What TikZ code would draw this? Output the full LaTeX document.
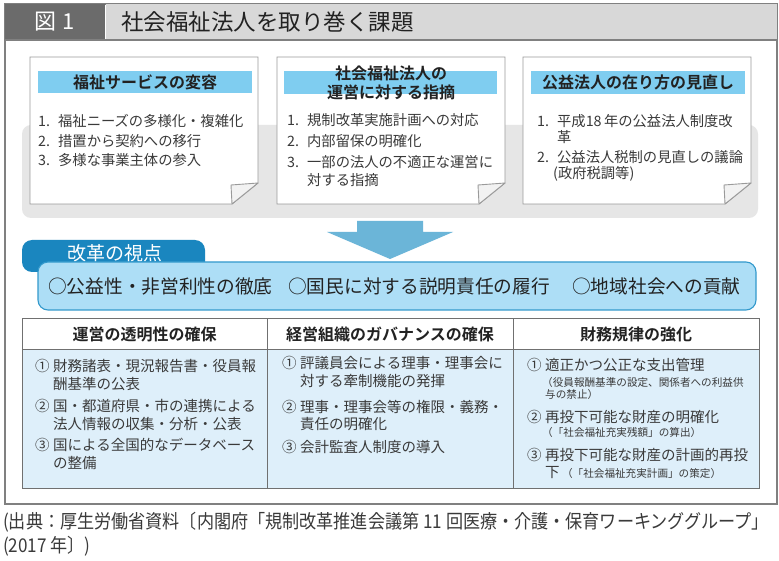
\documentclass[tikz,border=0pt]{standalone}
\usepackage{fontspec}
\setmainfont{Noto Sans CJK JP}[BoldFont={Noto Sans CJK JP Bold}]
\newfontfamily\jpnarrow{Noto Sans CJK JP}[FakeStretch=0.9]
\definecolor{framec}{HTML}{808080}
\definecolor{titledark}{HTML}{6B6B6B}
\definecolor{titlelight}{HTML}{D8D8D8}
\definecolor{bandc}{HTML}{E6E6E6}
\definecolor{cardc}{HTML}{9A9A9A}
\definecolor{foldc}{HTML}{F2F2F2}
\definecolor{headblue}{HTML}{7FCDF0}
\definecolor{arrowc}{HTML}{6BB5D8}
\definecolor{tabc}{HTML}{1A86BF}
\definecolor{barc}{HTML}{ADDEF6}
\definecolor{barline}{HTML}{3399CC}
\definecolor{gridc}{HTML}{707070}
\definecolor{bodyc}{HTML}{DEEFFA}
\definecolor{textc}{HTML}{3A3A3A}
\definecolor{headc}{HTML}{222222}
\newcommand\numbox[1]{\makebox[20pt][l]{#1}}
\newcommand\cnum[1]{\makebox[18pt][l]{#1}}
\newcommand\smallfnt{\fontsize{10.6}{12}\selectfont}
\begin{document}
\begin{tikzpicture}[x=1pt,y=-1pt,
  txt/.style={inner sep=0pt, text=textc, font=\fontsize{14.3}{17}\selectfont, anchor=west},
  ttxt/.style={inner sep=0pt, text=textc, font=\fontsize{14.5}{17}\selectfont, anchor=west},
  smalltxt/.style={inner sep=0pt, text=textc, font=\smallfnt, anchor=west},
  headtxt/.style={inner sep=0pt, text=headc, font=\fontsize{16}{19}\selectfont\bfseries},
  cardshape/.style={draw=cardc, line width=0.9pt, fill=white},
  foldshape/.style={draw=cardc, line width=0.9pt, fill=foldc, line join=round},
  headbar/.style={fill=headblue},
  bartxt/.style={inner sep=0pt, text=headc, font=\fontsize{18.7}{22}\selectfont, anchor=west},
  foot/.style={inner sep=0pt, text=textc, font=\jpnarrow\fontsize{19}{22}\selectfont, anchor=west}
]
\useasboundingbox (0,0) rectangle (779,561);
% outer frame and title
\fill[white] (0,0) rectangle (779,561);
\draw[framec, line width=1.6pt] (5,4) rectangle (777,504);
\fill[titledark] (5,4) rectangle (105,40);
\fill[titlelight] (105.8,4) rectangle (777,40);
\draw[framec, line width=1.6pt] (5,40) -- (777,40);
\node[inner sep=0pt, text=white, font=\fontsize{22}{24}\selectfont] (fig) at (55,22) {図\hspace{6pt}1};
\node[inner sep=0pt, text=headc, font=\fontsize{22.5}{25}\selectfont, anchor=west] (title) at (121,22) {社会福祉法人を取り巻く課題};
% gray band
\fill[bandc, rounded corners=9pt] (22,125) rectangle (758,218);
% cards
\draw[cardshape] (30,57) -- (258,57) -- (258,183) -- (232,204) -- (30,204) -- cycle;
\draw[foldshape] (231,185) -- (258,183) -- (232,204) -- cycle;
\draw[cardshape] (277,57) -- (505,57) -- (505,183) -- (479,204) -- (277,204) -- cycle;
\draw[foldshape] (478,185) -- (505,183) -- (479,204) -- cycle;
\draw[cardshape] (523,57) -- (751,57) -- (751,183) -- (725,204) -- (523,204) -- cycle;
\draw[foldshape] (724,185) -- (751,183) -- (725,204) -- cycle;
% card heads
\fill[headbar] (38,71) rectangle (252,93);
\node[headtxt] (h1) at (145,82) {福祉サービスの変容};
\fill[headbar] (284,71) rectangle (497,94);
\node[headtxt] (h2a) at (391,73) {社会福祉法人の};
\node[headtxt] (h2b) at (391,92) {運営に対する指摘};
\fill[headbar] (531,71) rectangle (745,94);
\node[headtxt] (h3) at (638,82) {公益法人の在り方の見直し};
% card items
\node[txt] (a1) at (38,121) {\numbox{1.}福祉ニーズの多様化・複雑化};
\node[txt] (a2) at (38,141) {\numbox{2.}措置から契約への移行};
\node[txt] (a3) at (38,160) {\numbox{3.}多様な事業主体の参入};
\node[txt] (b1) at (287,120) {\numbox{1.}規制改革実施計画への対応};
\node[txt] (b2) at (287,141) {\numbox{2.}内部留保の明確化};
\node[txt] (b3) at (287,162) {\numbox{3.}一部の法人の不適正な運営に};
\node[txt] (b4) at (307,180) {対する指摘};
\node[txt] (c1) at (537,121) {\numbox{1.}平成18\,年の公益法人制度改};
\node[txt] (c2) at (557,137) {革};
\node[txt] (c3) at (537,157) {\numbox{2.}公益法人税制の見直しの議論};
\node[txt] (c4) at (553,174) {(政府税調等)};
% arrow
\fill[arrowc] (357,221) -- (423,221) -- (423,232) -- (453,232) -- (390,259) -- (327,232) -- (357,232) -- cycle;
% tab and bar
\fill[tabc, rounded corners=10pt] (22,240) rectangle (205,272);
\node[inner sep=0pt, text=white, font=\fontsize{19}{22}\selectfont] (tab) at (115,253) {改革の視点};
\draw[barline, fill=barc, line width=1.1pt, rounded corners=10pt] (38,262) rectangle (756,310);
\node[bartxt] (p1) at (48,286) {○公益性・非営利性の徹底};
\node[bartxt] (p2) at (288,286) {○国民に対する説明責任の履行};
\node[bartxt] (p3) at (572,286) {○地域社会への貢献};
% table
\fill[white] (22,319) rectangle (759,349);
\fill[bodyc] (22,349) rectangle (759,488);
\draw[gridc, line width=1pt] (22,319) rectangle (759,488);
\draw[gridc, line width=1pt] (22,349) -- (759,349);
\draw[gridc, line width=1pt] (267,319) -- (267,488);
\draw[gridc, line width=1pt] (513,319) -- (513,488);
\node[headtxt] (t1) at (144.5,334) {運営の透明性の確保};
\node[headtxt] (t2) at (390,334) {経営組織のガバナンスの確保};
\node[headtxt] (t3) at (636,334) {財務規律の強化};
% column 1
\node[ttxt] (d1) at (35,366) {\cnum{①}財務諸表・現況報告書・役員報};
\node[ttxt] (d2) at (53,384) {酬基準の公表};
\node[ttxt] (d3) at (35,406) {\cnum{②}国・都道府県・市の連携による};
\node[ttxt] (d4) at (53,424) {法人情報の収集・分析・公表};
\node[ttxt] (d5) at (35,445) {\cnum{③}国による全国的なデータベース};
\node[ttxt] (d6) at (53,463) {の整備};
% column 2
\node[ttxt] (e1) at (282,363) {\cnum{①}評議員会による理事・理事会に};
\node[ttxt] (e2) at (300,381) {対する牽制機能の発揮};
\node[ttxt] (e3) at (282,407) {\cnum{②}理事・理事会等の権限・義務・};
\node[ttxt] (e4) at (300,424) {責任の明確化};
\node[ttxt] (e5) at (282,447) {\cnum{③}会計監査人制度の導入};
% column 3
\node[ttxt] (f1) at (527,365) {\cnum{①}適正かつ公正な支出管理};
\node[smalltxt] (f2) at (542,382) {（役員報酬基準の設定、関係者への利益供};
\node[smalltxt] (f3) at (545,394) {与の禁止）};
\node[ttxt] (f4) at (527,417) {\cnum{②}再投下可能な財産の明確化};
\node[smalltxt] (f5) at (542,432) {（「社会福祉充実残額」の算出）};
\node[ttxt] (f6) at (527,455) {\cnum{③}再投下可能な財産の計画的再投};
\node[ttxt] (f7) at (545,473) {下\,{\smallfnt（「社会福祉充実計画」の策定）}};
% footnote
\node[foot] (g1) at (3,522) {(出典：厚生労働省資料〔内閣府「規制改革推進会議第 11 回医療・介護・保育ワーキンググループ」};
\node[foot] (g2) at (3,546) {(2017 年〕)};
\end{tikzpicture}
\end{document}
